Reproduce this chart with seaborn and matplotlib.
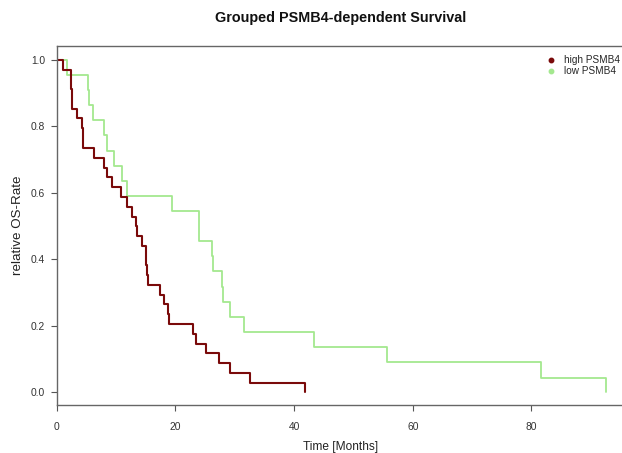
import numpy as np
import pandas as pd
import matplotlib
matplotlib.use("Agg")
import matplotlib.pyplot as plt
from matplotlib.lines import Line2D
import seaborn as sns

# Kaplan-Meier step values (time in months, survival after each step)
high_time = [0, 1.1, 2.4, 2.6, 3.4, 4.3, 4.5, 6.3, 8.0, 8.4, 9.3, 10.8, 11.8, 12.65,
             13.4, 13.6, 14.3, 15.0, 15.2, 15.45, 17.4, 18.1, 18.8, 18.95, 22.9,
             23.5, 25.2, 27.4, 29.2, 32.5, 41.9]
high_surv = [1.0, 0.971, 0.912, 0.853, 0.824, 0.794, 0.735, 0.706, 0.676, 0.647, 0.618,
             0.588, 0.559, 0.529, 0.500, 0.471, 0.441, 0.382, 0.353, 0.324, 0.294,
             0.265, 0.235, 0.206, 0.176, 0.147, 0.118, 0.088, 0.059, 0.029, 0.0]

low_time = [0, 1.7, 5.2, 5.5, 6.1, 8.0, 8.4, 9.7, 11.0, 11.9, 19.5, 23.9, 24.05, 26.1,
            26.3, 27.8, 28.0, 29.2, 31.5, 43.3, 55.6, 81.6, 92.6]
low_surv = [1.0, 0.955, 0.909, 0.864, 0.818, 0.773, 0.727, 0.682, 0.636, 0.591, 0.545,
            0.500, 0.455, 0.409, 0.364, 0.318, 0.273, 0.227, 0.182, 0.136, 0.091,
            0.045, 0.0]

groups = ["high PSMB4", "low PSMB4"]
colors = {"high PSMB4": "#7a0a0a", "low PSMB4": "#a4e88f"}
x_ticks = [0, 20, 40, 60, 80]
y_ticks = [0.0, 0.2, 0.4, 0.6, 0.8, 1.0]

df = pd.concat([
    pd.DataFrame({"time": high_time, "surv": high_surv, "group": groups[0]}),
    pd.DataFrame({"time": low_time, "surv": low_surv, "group": groups[1]}),
])

sns.set_style("ticks")
plt.rcParams["font.family"] = ["Liberation Sans", "DejaVu Sans"]

fig = plt.figure(figsize=(6.22, 4.53), dpi=100)
ax = fig.add_axes([0.0912, 0.106, 0.914, 0.7925])

sns.lineplot(data=df[df.group == groups[1]], x="time", y="surv", color=colors[groups[1]],
             drawstyle="steps-post", estimator=None, lw=1.3, legend=False, ax=ax)
sns.lineplot(data=df[df.group == groups[0]], x="time", y="surv", color=colors[groups[0]],
             drawstyle="steps-post", estimator=None, lw=1.5, legend=False, ax=ax)

ax.set_xlim(0, 95.8)
ax.set_ylim(-0.0376, 1.042)
ax.set_xticks(x_ticks)
ax.set_yticks(y_ticks)
ax.set_yticklabels([f"{v:.1f}" for v in y_ticks])
ax.tick_params(axis="both", bottom=True, left=True, length=4.5, width=0.8,
               color="#555555", labelsize=7.4, labelcolor="#333333")
ax.tick_params(axis="x", pad=8)
ax.tick_params(axis="y", pad=4)
for s in ax.spines.values():
    s.set_color("#666666")
    s.set_linewidth(1.0)

ax.set_xlabel("Time [Months]", fontsize=8.6, color="#222222", labelpad=6)
ax.set_ylabel("relative OS-Rate", fontsize=9.6, color="#222222", labelpad=5)
ax.set_title("Grouped PSMB4-dependent Survival", fontsize=10.4, fontweight="bold",
             color="#111111", pad=17)

handles = [Line2D([], [], marker="o", ls="", color=colors[g], markersize=3.2) for g in groups]
ax.legend(handles, groups, loc="upper left", bbox_to_anchor=(0.855, 0.985), frameon=False,
          fontsize=7.2, handlelength=0.8, handletextpad=0.9, labelspacing=0.1,
          borderaxespad=0)

fig.savefig("out.png", dpi=100)
